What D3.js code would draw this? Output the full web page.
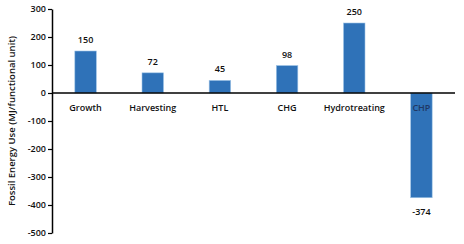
<!doctype html>
<html>
<head>
<meta charset="utf-8">
<script src="https://cdnjs.cloudflare.com/ajax/libs/d3/7.8.5/d3.min.js"></script>
<style>
body { margin: 0; background: #fff; }
svg text { font-family: "Open Sans", "Liberation Sans", sans-serif; }
</style>
</head>
<body>
<svg id="chart" width="464" height="244"></svg>
<script>
var categories = ["Growth", "Harvesting", "HTL", "CHG", "Hydrotreating", "CHP"];
var values = [150, 72, 45, 98, 250, -374];
var yTicks = [300, 200, 100, 0, -100, -200, -300, -400, -500];

var svg = d3.select("#chart");
var mLeft = 52, mRight = 455, mTop = 9, mBottom = 233;

var x = d3.scaleBand().domain(categories).range([mLeft, mRight]).paddingInner(0.68).paddingOuter(0.34);
var y = d3.scaleLinear().domain([-500, 300]).range([mBottom, mTop]);

// bars
svg.selectAll("rect.bar")
  .data(values)
  .enter()
  .append("rect")
  .attr("class", "bar")
  .attr("x", (d, i) => x(categories[i]))
  .attr("width", x.bandwidth())
  .attr("y", d => y(Math.max(0, d)))
  .attr("height", d => Math.abs(y(d) - y(0)))
  .style("fill", "#2F72B8")
  .style("stroke", "#9DC3E6")
  .style("stroke-width", 0.6);

// y axis
var yAxis = d3.axisLeft(y).tickValues(yTicks).tickFormat(d => String(d)).tickSize(4).tickSizeOuter(0);
var gy = svg.append("g").attr("transform", "translate(" + mLeft + ",0)").call(yAxis);
gy.select(".domain").style("stroke", "#000").style("stroke-width", 1.5);
gy.selectAll(".tick line").style("stroke", "#000").style("stroke-width", 1.2);
gy.selectAll("text").style("font-size", "9px").style("font-weight", "600").style("fill", "#111").attr("x", -6);

// zero line
svg.append("line")
  .attr("x1", mLeft).attr("x2", mRight)
  .attr("y1", y(0)).attr("y2", y(0))
  .style("stroke", "#000").style("stroke-width", 1.5);

// category labels
svg.selectAll("text.cat")
  .data(categories)
  .enter()
  .append("text")
  .attr("class", "cat")
  .attr("x", d => x(d) + x.bandwidth() / 2)
  .attr("y", y(0) + 18)
  .attr("text-anchor", "middle")
  .style("font-size", "9px")
  .style("font-weight", "600")
  .style("fill", (d, i) => values[i] < 0 ? "#1F3864" : "#111")
  .text(d => d);

// value labels
svg.selectAll("text.val")
  .data(values)
  .enter()
  .append("text")
  .attr("class", "val")
  .attr("x", (d, i) => x(categories[i]) + x.bandwidth() / 2)
  .attr("y", d => d >= 0 ? y(d) - 8 : y(d) + 17)
  .attr("text-anchor", "middle")
  .style("font-size", "9px")
  .style("font-weight", "600")
  .style("fill", "#111")
  .text(d => String(d));

// axis title
svg.append("text")
  .attr("transform", "translate(15," + (mTop + mBottom) / 2 + ") rotate(-90)")
  .attr("text-anchor", "middle")
  .style("font-size", "9.5px")
  .style("font-weight", "600")
  .style("fill", "#111")
  .text("Fossil Energy Use (MJ/functional unit)");
</script>
</body>
</html>
